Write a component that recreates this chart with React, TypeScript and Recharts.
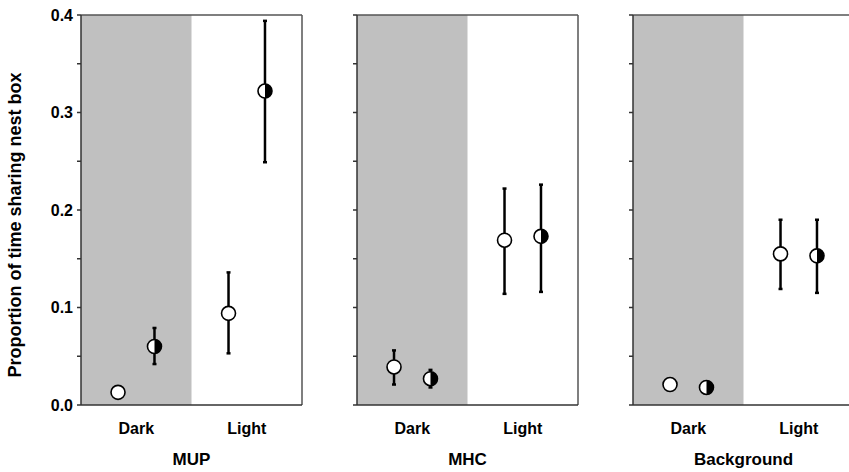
import React from 'react';
import { ScatterChart, Scatter, XAxis, YAxis, ErrorBar, ReferenceArea, ReferenceLine } from 'recharts';

const categories = ['Dark', 'Light'];
const panelNames = ['MUP', 'MHC', 'Background'];
const yTicks = [0, 0.05, 0.1, 0.15, 0.2, 0.25, 0.3, 0.35, 0.4];

// open circles
const mupOpen = [0.013, 0.094];
const mupOpenLo = [0.010, 0.053];
const mupOpenHi = [0.016, 0.136];
const mhcOpen = [0.039, 0.169];
const mhcOpenLo = [0.021, 0.114];
const mhcOpenHi = [0.056, 0.222];
const bgOpen = [0.021, 0.155];
const bgOpenLo = [0.018, 0.119];
const bgOpenHi = [0.024, 0.190];

// half-filled circles
const mupHalf = [0.060, 0.322];
const mupHalfLo = [0.042, 0.249];
const mupHalfHi = [0.079, 0.394];
const mhcHalf = [0.027, 0.173];
const mhcHalfLo = [0.018, 0.116];
const mhcHalfHi = [0.036, 0.226];
const bgHalf = [0.018, 0.153];
const bgHalfLo = [0.015, 0.115];
const bgHalfHi = [0.021, 0.190];

const FONT = 'Arial, "Liberation Sans", sans-serif';
const OFFSET = 0.165;

const build = (mean: number[], lo: number[], hi: number[], shift: number) =>
  categories.map((c, i) => ({
    x: i + 0.5 + shift,
    y: mean[i],
    err: [mean[i] - lo[i], hi[i] - mean[i]],
  }));

const panels = [
  { name: panelNames[0], open: build(mupOpen, mupOpenLo, mupOpenHi, -OFFSET), half: build(mupHalf, mupHalfLo, mupHalfHi, OFFSET) },
  { name: panelNames[1], open: build(mhcOpen, mhcOpenLo, mhcOpenHi, -OFFSET), half: build(mhcHalf, mhcHalfLo, mhcHalfHi, OFFSET) },
  { name: panelNames[2], open: build(bgOpen, bgOpenLo, bgOpenHi, -OFFSET), half: build(bgHalf, bgHalfLo, bgHalfHi, OFFSET) },
];

const R = 7;

const OpenDot = (props: any) => {
  const { cx, cy } = props;
  return <circle cx={cx} cy={cy} r={R} fill="#fff" stroke="#000" strokeWidth={1.6} />;
};

const HalfDot = (props: any) => {
  const { cx, cy } = props;
  return (
    <g>
      <circle cx={cx} cy={cy} r={R} fill="#fff" />
      <path d={`M${cx},${cy - R} A${R},${R} 0 0 1 ${cx},${cy + R} Z`} fill="#000" />
      <circle cx={cx} cy={cy} r={R} fill="none" stroke="#000" strokeWidth={1.6} />
    </g>
  );
};

const Panel = ({ panel, first, left }: { panel: any; first: boolean; left: number }) => {
  const yW = first ? 81 : 27;
  const width = yW + 221 + 10;
  return (
    <div style={{ position: 'absolute', left, top: 0 }}>
      <ScatterChart width={width} height={472} margin={{ top: 15, right: 10, bottom: 0, left: 0 }}>
        <ReferenceArea x1={0} x2={1} y1={0} y2={0.4} fill="#c0c0c0" fillOpacity={1} stroke="none" />
        <ReferenceLine y={0.4} stroke="#555" strokeWidth={1.5} />
        <ReferenceLine x={2} stroke="#555" strokeWidth={1.5} />
        <XAxis
          type="number"
          dataKey="x"
          domain={[0, 2]}
          ticks={[0.5, 1.5]}
          tickFormatter={(v: number) => categories[Math.floor(v)]}
          tickSize={0}
          tickMargin={18}
          height={67}
          stroke="#333"
          strokeWidth={1.5}
          tick={{ fill: '#000', fontSize: 16, fontWeight: 'bold', fontFamily: FONT }}
          label={{ value: panel.name, position: 'insideBottom', offset: 7, fill: '#000', fontSize: 17, fontWeight: 'bold', fontFamily: FONT }}
        />
        <YAxis
          type="number"
          dataKey="y"
          domain={[0, 0.4]}
          ticks={yTicks}
          interval={0}
          width={yW}
          tickSize={4}
          tickMargin={4}
          stroke="#333"
          strokeWidth={1.5}
          tickFormatter={(v: number) => (first && Math.round(v * 100) % 10 === 0 ? v.toFixed(1) : '')}
          tick={{ fill: '#000', fontSize: 16, fontWeight: 'bold', fontFamily: FONT }}
          label={
            first
              ? {
                  content: () => (
                    <text
                      x={15}
                      y={225}
                      transform="rotate(-90 15 225)"
                      textAnchor="middle"
                      dominantBaseline="central"
                      fill="#000"
                      fontSize={18}
                      fontWeight="bold"
                      fontFamily={FONT}
                    >
                      Proportion of time sharing nest box
                    </text>
                  ),
                }
              : undefined
          }
        />
        <Scatter data={panel.open} shape={<OpenDot />} isAnimationActive={false}>
          <ErrorBar dataKey="err" direction="y" width={2} stroke="#000" strokeWidth={2.5} />
        </Scatter>
        <Scatter data={panel.half} shape={<HalfDot />} isAnimationActive={false}>
          <ErrorBar dataKey="err" direction="y" width={2} stroke="#000" strokeWidth={2.5} />
        </Scatter>
      </ScatterChart>
    </div>
  );
};

export default function App() {
  return (
    <div style={{ position: 'absolute', left: 0, top: 0, width: 849, height: 472, overflow: 'hidden', background: '#fff' }}>
      <Panel panel={panels[0]} first left={0} />
      <Panel panel={panels[1]} first={false} left={330} />
      <Panel panel={panels[2]} first={false} left={606} />
    </div>
  );
}
